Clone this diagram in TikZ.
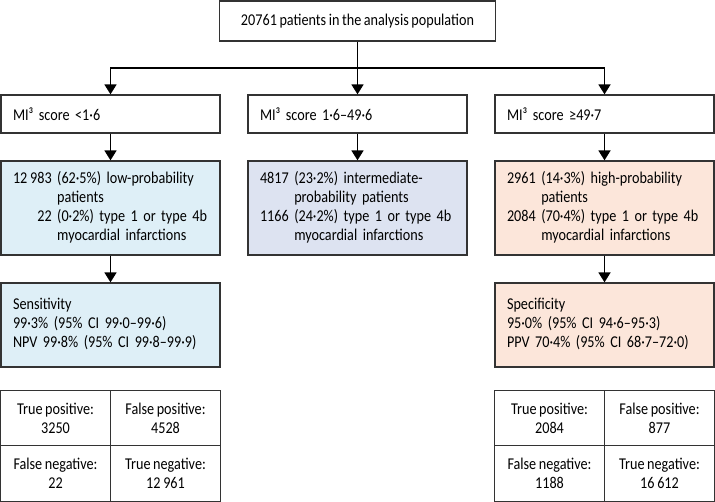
\documentclass[tikz,border=0pt]{standalone}
\usepackage{fontspec}
\setmainfont{Carlito}[FakeStretch=0.86,WordSpace=0.8]
\usepackage{xcolor}
\usetikzlibrary{arrows.meta}
\definecolor{lowblue}{HTML}{DEEFF7}
\definecolor{midblue}{HTML}{DDE3F1}
\definecolor{highpeach}{HTML}{FCE6DA}
\definecolor{edge}{HTML}{333333}

\begin{document}
\begin{tikzpicture}[x=1pt,y=-1pt,font=\fontsize{16.5}{19}\selectfont,
  flow/.style={line width=1.8pt,-{Triangle[width=12pt,length=10pt]}},
  frame/.style={draw=edge,line width=1.3pt,inner sep=0pt},
  framed/.style={frame,inner xsep=12pt,text width=195pt,align=left},
  cell/.style={frame,minimum width=110pt,minimum height=55.5pt,align=center}]
  \useasboundingbox (0,0) rectangle (715,502);
  \node[frame,minimum width=276pt,minimum height=40pt] (total) at (357.5,21) {20761 patients in the analysis population};
  \node[framed,minimum height=38pt] (lowscore) at (110.5,114) {MI³ score <1·6};
  \node[framed,minimum height=38pt] (midscore) at (357.5,114) {MI³ score 1·6–49·6};
  \node[framed,minimum height=38pt] (highscore) at (604.5,114) {MI³ score ≥49·7};
  \node[framed,fill=lowblue,minimum height=94pt] (lowgroup) at (110.5,208) {\begin{tabular}{@{}r@{ }l@{}}12\,983 & (62·5\%) low-probability\\ & patients\\ 22 & (0·2\%) type 1 or type 4b\\ & myocardial infarctions\end{tabular}};
  \node[framed,fill=midblue,minimum height=94pt] (midgroup) at (357.5,208) {\begin{tabular}{@{}r@{ }l@{}}4817 & (23·2\%) intermediate-\\ & probability patients\\ 1166 & (24·2\%) type 1 or type 4b\\ & myocardial infarctions\end{tabular}};
  \node[framed,fill=highpeach,minimum height=94pt] (highgroup) at (604.5,208) {\begin{tabular}{@{}r@{ }l@{}}2961 & (14·3\%) high-probability\\ & patients\\ 2084 & (70·4\%) type 1 or type 4b\\ & myocardial infarctions\end{tabular}};
  \node[framed,fill=lowblue,minimum height=84pt] (lowstats) at (110.5,325) {\begin{tabular}{@{}l@{}}Sensitivity\\99·3\% (95\% CI 99·0–99·6)\\NPV 99·8\% (95\% CI 99·8–99·9)\end{tabular}};
  \node[framed,fill=highpeach,minimum height=84pt] (highstats) at (604.5,325) {\begin{tabular}{@{}l@{}}Specificity\\95·0\% (95\% CI 94·6–95·3)\\PPV 70·4\% (95\% CI 68·7–72·0)\end{tabular}};
  \node[cell] (lowtp) at (55.5,418) {True positive:\\3250};
  \node[cell] (lowfp) at (165.5,418) {False positive:\\4528};
  \node[cell] (lowfn) at (55.5,473.5) {False negative:\\22};
  \node[cell] (lowtn) at (165.5,473.5) {True negative:\\12\,961};
  \node[cell] (hightp) at (549.5,418) {True positive:\\2084};
  \node[cell] (highfp) at (659.5,418) {False positive:\\877};
  \node[cell] (highfn) at (549.5,473.5) {False negative:\\1188};
  \node[cell] (hightn) at (659.5,473.5) {True negative:\\16\,612};
  \coordinate (split) at (357.5,68);
  \draw[line width=1.8pt] (total) -- (split);
  \draw[flow] (split) -| (lowscore);
  \draw[flow] (split) -- (midscore);
  \draw[flow] (split) -| (highscore);
  \draw[flow] (lowscore) -- (lowgroup);
  \draw[flow] (midscore) -- (midgroup);
  \draw[flow] (highscore) -- (highgroup);
  \draw[flow] (lowgroup) -- (lowstats);
  \draw[flow] (highgroup) -- (highstats);
\end{tikzpicture}
\end{document}
